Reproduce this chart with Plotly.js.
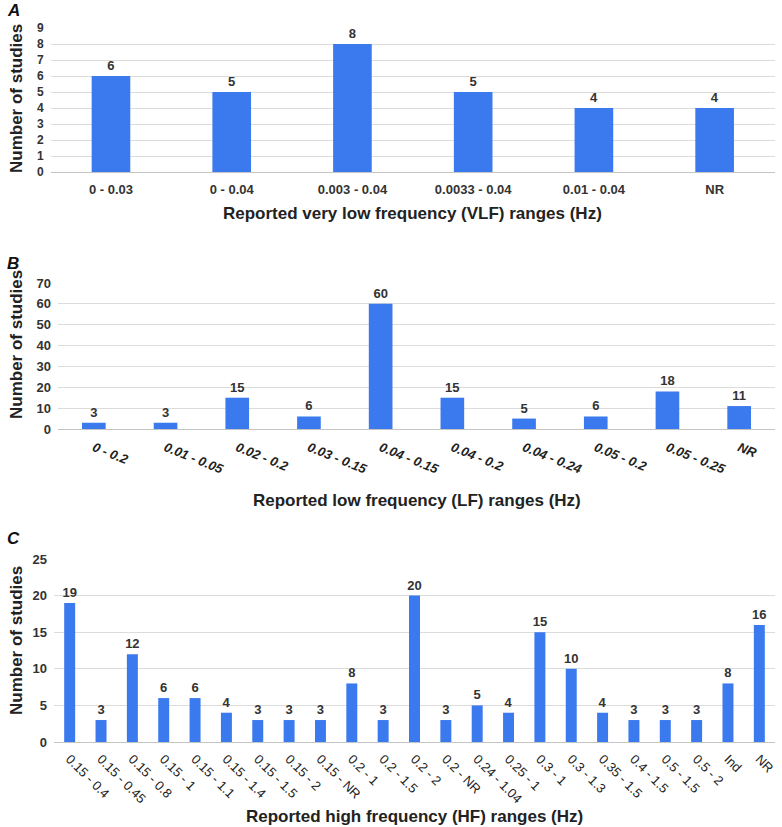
<!DOCTYPE html>
<html>
<head>
<meta charset="utf-8">
<script src="https://cdn.plot.ly/plotly-3.0.1.min.js"></script>
<style>html,body{margin:0;padding:0;background:#fff;}#chart{width:782px;height:827px;}</style>
</head>
<body>
<div id="chart"></div>
<script>
const vlfCats = ['0 - 0.03','0 - 0.04','0.003 - 0.04','0.0033 - 0.04','0.01 - 0.04','NR'];
const vlfVals = [6,5,8,5,4,4];
const lfCats = ['0 - 0.2','0.01 - 0.05','0.02 - 0.2','0.03 - 0.15','0.04 - 0.15','0.04 - 0.2','0.04 - 0.24','0.05 - 0.2','0.05 - 0.25','NR'];
const lfVals = [3,3,15,6,60,15,5,6,18,11];
const hfCats = ['0.15 - 0.4','0.15 - 0.45','0.15 - 0.8','0.15 - 1','0.15 - 1.1','0.15 - 1.4','0.15 - 1.5','0.15 - 2','0.15 - NR','0.2 - 1','0.2 - 1.5','0.2 - 2','0.2 - NR','0.24 - 1.04','0.25 - 1','0.3 - 1','0.3 - 1.3','0.35 - 1.5','0.4 - 1.5','0.5 - 1.5','0.5 - 2','Ind','NR'];
const hfVals = [19,3,12,6,6,4,3,3,3,8,3,20,3,5,4,15,10,4,3,3,3,8,16];

const FONT = 'Arial, "Liberation Sans", sans-serif';
const BLUE = '#3a79ee';
const W = 782, H = 827;
const py = v => 1 - v / H;
const px = v => v / W;

function bar(x, y, xa, ya, width) {
  return {
    type: 'bar', x: x, y: y, xaxis: xa, yaxis: ya,
    marker: {color: BLUE, line: {width: 0}},
    width: width,
    text: y.map(String), textposition: 'outside', cliponaxis: false,
    constraintext: 'none',
    textfont: {family: FONT, size: 13, color: '#333', weight: 'bold'},
    hoverinfo: 'x+y', showlegend: false
  };
}

const data = [
  bar(vlfCats, vlfVals, 'x', 'y', 0.32),
  bar(lfCats, lfVals, 'x2', 'y2', 0.33),
  bar(hfCats, hfVals, 'x3', 'y3', 0.35)
];

function yax(domain, range, dtick, anchor, size) {
  return {
    domain: domain, range: range, dtick: dtick, anchor: anchor,
    showgrid: true, gridcolor: '#dcdcdc', gridwidth: 1,
    zeroline: true, zerolinecolor: '#c4c4c4', zerolinewidth: 1,
    showline: false, ticks: '', ticklabelstandoff: 6,
    tickfont: {family: FONT, size: size, color: '#333', weight: 'bold'},
    fixedrange: true
  };
}
function xax(domain, anchor, angle, font, standoff) {
  return {
    domain: domain, anchor: anchor, type: 'category',
    showgrid: false, zeroline: false, showline: false, ticks: '',
    tickangle: angle, tickfont: font, ticklabelstandoff: standoff,
    automargin: false, fixedrange: true
  };
}

const layout = {
  width: W, height: H,
  margin: {l: 0, r: 0, t: 0, b: 0},
  paper_bgcolor: '#fff', plot_bgcolor: '#fff',
  bargap: 0.2,
  xaxis: xax([px(50.6), px(775)], 'y', 0, {family: FONT, size: 13, color: '#333', weight: 'bold'}, 8),
  yaxis: yax([py(172), py(28)], [0, 9], 1, 'x', 12),
  xaxis2: xax([px(58), px(775)], 'y2', 22, {family: FONT, size: 13, color: '#222', weight: 'bold', style: 'italic'}, 8),
  yaxis2: yax([py(429), py(283)], [0, 70], 10, 'x2', 13),
  xaxis3: xax([px(54), px(775)], 'y3', 45, {family: FONT, size: 13, color: '#222'}, 6),
  yaxis3: yax([py(742), py(559)], [0, 25], 5, 'x3', 13),
  annotations: [
    {text: '<b><i>A</i></b>', xref: 'paper', yref: 'paper', x: px(5), y: py(10), xanchor: 'left', yanchor: 'middle', showarrow: false, font: {family: FONT, size: 17, color: '#111'}},
    {text: '<b><i>B</i></b>', xref: 'paper', yref: 'paper', x: px(5), y: py(263), xanchor: 'left', yanchor: 'middle', showarrow: false, font: {family: FONT, size: 17, color: '#111'}},
    {text: '<b><i>C</i></b>', xref: 'paper', yref: 'paper', x: px(5), y: py(538), xanchor: 'left', yanchor: 'middle', showarrow: false, font: {family: FONT, size: 17, color: '#111'}},
    {text: '<b>Reported very low frequency (VLF) ranges (Hz)</b>', xref: 'x domain', yref: 'paper', x: 0.5, y: py(214), xanchor: 'center', yanchor: 'middle', showarrow: false, font: {family: FONT, size: 17, color: '#222'}},
    {text: '<b>Reported low frequency (LF) ranges (Hz)</b>', xref: 'x2 domain', yref: 'paper', x: 0.5, y: py(500), xanchor: 'center', yanchor: 'middle', showarrow: false, font: {family: FONT, size: 17, color: '#222'}},
    {text: '<b>Reported high frequency (HF) ranges (Hz)</b>', xref: 'x3 domain', yref: 'paper', x: 0.5, y: py(816), xanchor: 'center', yanchor: 'middle', showarrow: false, font: {family: FONT, size: 17, color: '#222'}},
    {text: '<b>Number of studies</b>', xref: 'paper', yref: 'paper', x: px(16), y: py(99), xanchor: 'center', yanchor: 'middle', textangle: -90, showarrow: false, font: {family: FONT, size: 17, color: '#222'}},
    {text: '<b>Number of studies</b>', xref: 'paper', yref: 'paper', x: px(17), y: py(345), xanchor: 'center', yanchor: 'middle', textangle: -90, showarrow: false, font: {family: FONT, size: 17, color: '#222'}},
    {text: '<b>Number of studies</b>', xref: 'paper', yref: 'paper', x: px(16), y: py(641), xanchor: 'center', yanchor: 'middle', textangle: -90, showarrow: false, font: {family: FONT, size: 17, color: '#222'}}
  ]
};

Plotly.newPlot('chart', data, layout, {displayModeBar: false, staticPlot: true});
</script>
</body>
</html>
